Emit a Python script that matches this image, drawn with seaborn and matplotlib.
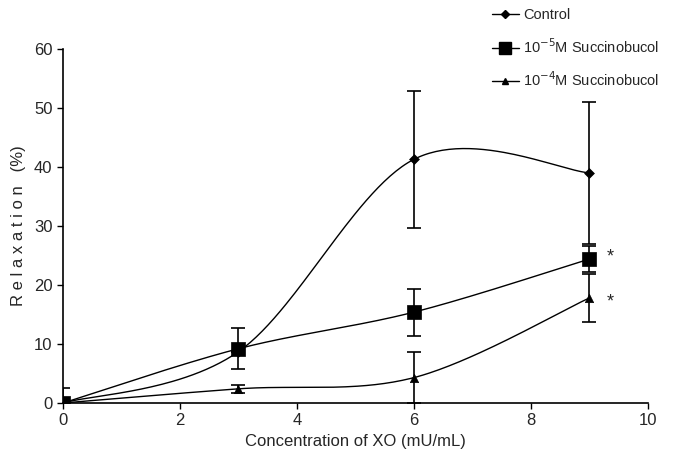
import numpy as np
import pandas as pd
import matplotlib
matplotlib.use("Agg")
import matplotlib.pyplot as plt
import seaborn as sns

# ---- data ----
conc = [0, 3, 6, 9]
control = [0.0, 8.7, 41.3, 39.0]
control_err = [2.5, 0.0, 11.6, 12.0]
succ5 = [0.0, 9.2, 15.4, 24.4]
succ5_err = [0.0, 3.5, 4.0, 2.2]
succ4 = [0.0, 2.4, 4.3, 17.8]
succ4_err = [0.0, 0.7, 4.3, 4.0]
series_names = ["Control", "10$^{-5}$M Succinobucol", "10$^{-4}$M Succinobucol"]
x_ticks = [0, 2, 4, 6, 8, 10]
y_ticks = [0, 10, 20, 30, 40, 50, 60]

sns.set_theme(style="ticks")
plt.rcParams['font.family'] = ['Liberation Sans Narrow', 'Liberation Sans', 'DejaVu Sans']


def smooth(xs, ys, n=60):
    """Excel-style smoothed line (Catmull-Rom Bezier) through the points."""
    P = np.column_stack([xs, ys]).astype(float)
    m = len(P)
    out = []
    for i in range(m - 1):
        p0 = P[i - 1] if i > 0 else P[i]
        p1, p2 = P[i], P[i + 1]
        p3 = P[i + 2] if i + 2 < m else P[i + 1]
        b1 = p1 + (p2 - p0) / 6.0
        b2 = p2 - (p3 - p1) / 6.0
        t = np.linspace(0, 1, n)[:, None]
        seg = ((1 - t) ** 3) * p1 + 3 * ((1 - t) ** 2) * t * b1 + 3 * (1 - t) * t ** 2 * b2 + t ** 3 * p2
        out.append(seg if i == 0 else seg[1:])
    return np.vstack(out)


fig = plt.figure(figsize=(6.73, 4.75), dpi=100)
ax = fig.add_axes([0.0936, 0.1516, 0.869, 0.7452])

series = [
    (control, control_err, "D", 5),
    (succ5, succ5_err, "s", 10),
    (succ4, succ4_err, "^", 6),
]

handles = []
for (vals, errs, mk, ms), name in zip(series, series_names):
    curve = smooth(conc, vals)
    df = pd.DataFrame({"x": curve[:, 0], "y": curve[:, 1]})
    sns.lineplot(data=df, x="x", y="y", ax=ax, color="black", lw=1.0,
                 estimator=None, sort=False)
    ax.errorbar(conc, vals, yerr=errs, fmt="none", ecolor="black",
                elinewidth=1.2, capsize=5, capthick=1.2, zorder=3)
    pts = pd.DataFrame({"x": conc, "y": vals})
    sns.scatterplot(data=pts, x="x", y="y", ax=ax, marker=mk, color="black",
                    s=ms ** 2, edgecolor="black", linewidth=0.5, zorder=4)
    h, = ax.plot([], [], color="black", marker=mk, ms=ms * 0.8, lw=1.0)
    handles.append(h)

ax.text(9.35, succ5[3] + 0.3, "*", fontsize=13, ha="center", va="center")
ax.text(9.35, succ4[3] - 0.7, "*", fontsize=13, ha="center", va="center")

ax.set_xlim(0, 10)
ax.set_ylim(0, 60)
ax.set_xticks(x_ticks)
ax.set_yticks(y_ticks)
ax.tick_params(axis="both", labelsize=12, length=4, width=1, color="black", direction="out")
ax.set_xlabel("Concentration of XO (mU/mL)", fontsize=12, labelpad=4)
ax.set_ylabel("R e l a x a t i o n   (%)", fontsize=12, labelpad=6)
for s in ["top", "right"]:
    ax.spines[s].set_visible(False)
for s in ["left", "bottom"]:
    ax.spines[s].set_color("black")
    ax.spines[s].set_linewidth(1.2)

fig.legend(handles, series_names, loc="upper left", bbox_to_anchor=(0.712, 1.01),
           frameon=False, fontsize=10.5, handlelength=1.8, handletextpad=0.3,
           labelspacing=1.0)

fig.savefig("out.png", dpi=100)
